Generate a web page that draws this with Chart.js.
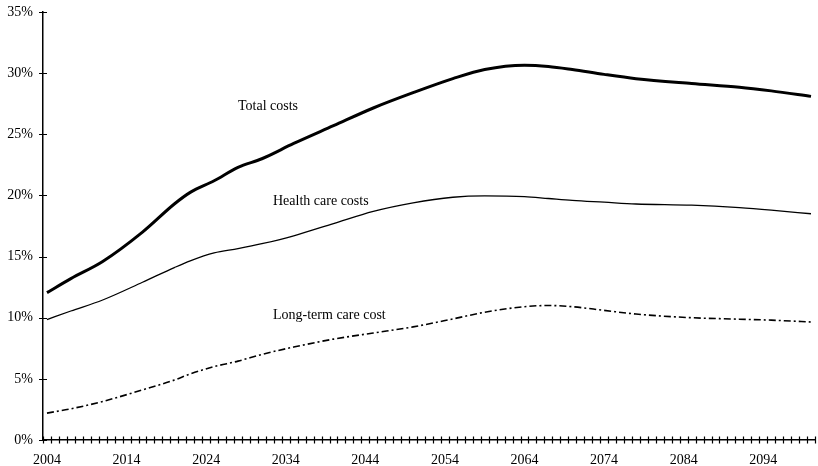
<!DOCTYPE html>
<html>
<head>
<meta charset="utf-8">
<title>Projected costs, share of total</title>
<script src="https://cdn.jsdelivr.net/npm/chart.js@4/dist/chart.umd.min.js"></script>
<style>
  html, body { margin: 0; padding: 0; background: #fff; }
  #wrap { width: 818px; height: 466px; }
</style>
</head>
<body>
<div id="wrap"><canvas id="chart" width="818" height="466"></canvas></div>
<script>
// Yearly categories on the horizontal axis
const years = [];
for (let y = 2004; y <= 2100; y++) years.push(String(y));

// Years that carry a printed label
const labeledYears = ['2004', '2014', '2024', '2034', '2044', '2054', '2064', '2074', '2084', '2094'];

// Vertical axis ticks (percent)
const percentTicks = [0, 5, 10, 15, 20, 25, 30, 35];

// Years at which the series values were estimated
const sampleYears = [2004, 2007, 2011, 2016, 2020, 2022, 2025, 2028, 2031, 2035, 2040, 2045, 2050,
                     2055, 2059, 2064, 2067, 2070, 2074, 2078, 2085, 2091, 2095, 2100];

const totalCosts = [12.05, 13.2, 14.6, 17.0, 19.3, 20.25, 21.2, 22.3, 23.0, 24.25, 25.7, 27.15, 28.4,
                    29.55, 30.3, 30.65, 30.55, 30.3, 29.9, 29.55, 29.15, 28.85, 28.55, 28.1];

const healthCareCosts = [9.85, 10.55, 11.45, 12.9, 14.1, 14.65, 15.3, 15.65, 16.05, 16.7, 17.7, 18.7, 19.4,
                         19.85, 19.96, 19.9, 19.75, 19.6, 19.45, 19.3, 19.2, 19.0, 18.8, 18.5];

const longTermCareCost = [2.2, 2.55, 3.15, 4.1, 4.9, 5.4, 6.0, 6.45, 7.0, 7.6, 8.25, 8.75, 9.25,
                          9.9, 10.45, 10.9, 11.0, 10.9, 10.6, 10.3, 10.0, 9.88, 9.8, 9.65];

const seriesNames = ['Total costs', 'Health care costs', 'Long-term care cost'];

const toPoints = vals => vals.map((v, i) => ({ x: String(sampleYears[i]), y: v }));

const FONT = '"Liberation Serif", "Times New Roman", serif';

// Tick marks that cross the axis lines, placed through the scales
const crossTicks = {
  id: 'crossTicks',
  afterDraw(chart) {
    const { ctx } = chart;
    const xs = chart.scales.x, ys = chart.scales.y;
    const half = 3.5;
    ctx.save();
    ctx.strokeStyle = '#000';
    ctx.lineWidth = 1.2;
    ctx.beginPath();
    // horizontal axis: marks between categories
    const step = xs.getPixelForValue(1) - xs.getPixelForValue(0);
    for (let i = 0; i <= years.length; i++) {
      const px = Math.round(xs.getPixelForValue(i) - step / 2) + 0.5;
      ctx.moveTo(px, ys.bottom - half);
      ctx.lineTo(px, ys.bottom + half);
    }
    // vertical axis: marks at each percent tick
    percentTicks.forEach(v => {
      const py = Math.round(ys.getPixelForValue(v)) + 0.5;
      ctx.moveTo(xs.left - 4, py);
      ctx.lineTo(xs.left + 4, py);
    });
    ctx.stroke();
    ctx.restore();
  }
};

// Series names written next to their curves
const curveLabels = {
  id: 'curveLabels',
  afterDatasetsDraw(chart, args, opts) {
    const { ctx } = chart;
    const xs = chart.scales.x, ys = chart.scales.y;
    ctx.save();
    ctx.fillStyle = '#000';
    ctx.font = opts.font;
    ctx.textAlign = 'left';
    ctx.textBaseline = 'middle';
    opts.items.forEach(it => {
      const px = xs.getPixelForValue(years.indexOf(String(it.year)) + it.shift);
      const py = ys.getPixelForValue(it.value);
      ctx.fillText(it.text, px, py);
    });
    ctx.restore();
  }
};

new Chart(document.getElementById('chart'), {
  type: 'line',
  data: {
    labels: years,
    datasets: [
      {
        label: seriesNames[0],
        data: toPoints(totalCosts),
        borderColor: '#000',
        borderWidth: 3,
        pointRadius: 0,
        cubicInterpolationMode: 'monotone'
      },
      {
        label: seriesNames[1],
        data: toPoints(healthCareCosts),
        borderColor: '#000',
        borderWidth: 1.3,
        pointRadius: 0,
        cubicInterpolationMode: 'monotone'
      },
      {
        label: seriesNames[2],
        data: toPoints(longTermCareCost),
        borderColor: '#000',
        borderWidth: 1.6,
        borderDash: [7, 3, 2, 3],
        pointRadius: 0,
        cubicInterpolationMode: 'monotone'
      }
    ]
  },
  options: {
    responsive: false,
    devicePixelRatio: 1,
    animation: false,
    layout: { padding: { top: 12, right: 3, left: 0, bottom: 0 } },
    plugins: {
      legend: { display: false },
      tooltip: { enabled: false },
      curveLabels: {
        font: '14px ' + FONT,
        items: [
          { text: seriesNames[0], year: 2028, shift: 0, value: 27.3 },
          { text: seriesNames[1], year: 2032, shift: 0.4, value: 19.5 },
          { text: seriesNames[2], year: 2032, shift: 0.4, value: 10.2 }
        ]
      }
    },
    scales: {
      x: {
        type: 'category',
        offset: true,
        grid: { display: false, drawTicks: false, offset: true },
        border: { display: true, color: '#000', width: 1.5 },
        ticks: {
          autoSkip: false,
          maxRotation: 0,
          minRotation: 0,
          padding: 12,
          color: '#000',
          font: { family: FONT, size: 14 },
          callback: function (val, i) {
            const lab = years[i];
            return labeledYears.includes(lab) ? lab : '';
          }
        },
        afterFit: s => { s.height = 26; s.paddingLeft = 0; s.paddingRight = 0; }
      },
      y: {
        min: 0,
        max: 35,
        grid: { display: false, drawTicks: false },
        border: { display: true, color: '#000', width: 1.5 },
        afterBuildTicks: s => { s.ticks = percentTicks.map(v => ({ value: v })); },
        ticks: {
          padding: 10,
          color: '#000',
          font: { family: FONT, size: 14 },
          callback: v => v + '%'
        },
        afterFit: s => { s.width = 43; s.paddingTop = 0; s.paddingBottom = 0; }
      }
    }
  },
  plugins: [crossTicks, curveLabels]
});
</script>
</body>
</html>
